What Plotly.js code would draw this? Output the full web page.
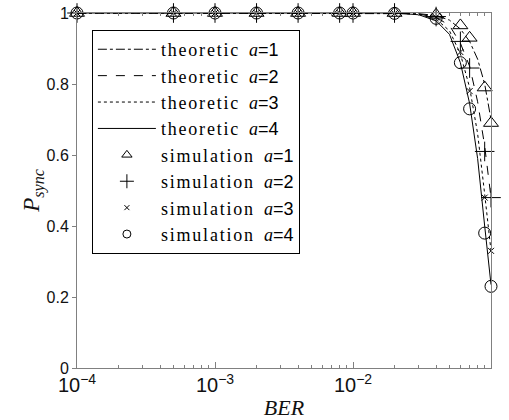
<!DOCTYPE html>
<html>
<head>
<meta charset="utf-8">
<script src="https://cdn.plot.ly/plotly-3.0.1.min.js"></script>
<style>
  html, body { margin: 0; padding: 0; background: #ffffff; }
  #chart { width: 509px; height: 420px; }
</style>
</head>
<body>
<div id="chart"></div>
<script>
// Bit error rates where the simulation was run
const berSim = [1e-4, 5e-4, 1e-3, 2e-3, 4e-3, 8e-3, 1e-2, 2e-2, 4e-2, 6e-2, 7e-2, 9e-2, 1e-1];

// Simulated synchronisation probability for a = 1..4
const simA1 = [1, 1, 1, 1, 1, 1, 1, 1, 0.995, 0.965, 0.93, 0.79, 0.69];
const simA2 = [1, 1, 1, 1, 1, 1, 1, 1, 0.99, 0.92, 0.845, 0.61, 0.48];
const simA3 = [1, 1, 1, 1, 1, 1, 1, 0.999, 0.988, 0.89, 0.78, 0.48, 0.33];
const simA4 = [1, 1, 1, 1, 1, 1, 1, 0.999, 0.985, 0.86, 0.73, 0.38, 0.23];

// Theoretic curves
const berTheo = [1e-4, 1e-3, 1e-2, 2e-2, 3e-2, 4e-2, 5e-2, 6e-2, 7e-2, 8e-2, 9e-2, 1e-1];
const theoA1 = [1, 1, 1, 1, 0.998, 0.993, 0.98, 0.955, 0.92, 0.87, 0.80, 0.70];
const theoA2 = [1, 1, 1, 1, 0.997, 0.988, 0.965, 0.915, 0.85, 0.75, 0.625, 0.48];
const theoA3 = [1, 1, 1, 1, 0.996, 0.983, 0.95, 0.885, 0.79, 0.66, 0.49, 0.33];
const theoA4 = [1, 1, 1, 1, 0.995, 0.978, 0.94, 0.86, 0.745, 0.59, 0.40, 0.235];

const aValues = ['1', '2', '3', '4'];
const lineDashes = ['dashdot', 'dash', 'dot', 'solid'];
const markerSymbols = ['triangle-up-open', 'cross-thin-open', 'x-thin-open', 'circle-open'];
const markerSizes = [13, 14, 6, 12];
const legendMarkerSizes = [9, 10, 5, 8];

const theoSeries = [theoA1, theoA2, theoA3, theoA4];
const simSeries = [simA1, simA2, simA3, simA4];

const sans = 'Liberation Sans, Arial, sans-serif';
const serif = 'Liberation Serif, Times New Roman, serif';

function label(word, a) {
  return '<span style="letter-spacing:1.8px">' + word + '</span>  <i>a</i>' +
         '<span style="font-family:' + sans + '">=' + a + '</span>';
}

const traces = [];
// theoretic curves (also listed in the legend)
theoSeries.forEach((ys, i) => {
  traces.push({
    x: berTheo, y: ys, type: 'scatter', mode: 'lines',
    name: label('theoretic', aValues[i]),
    line: { color: '#000000', width: 1, dash: lineDashes[i] }
  });
});
// legend keys for the simulation markers, drawn smaller than on the plot
simSeries.forEach((ys, i) => {
  traces.push({
    x: [null], y: [null], type: 'scatter', mode: 'markers',
    name: label('simulation', aValues[i]),
    legendgroup: 'sim' + i,
    marker: {
      symbol: markerSymbols[i], size: legendMarkerSizes[i], color: '#000000',
      line: { color: '#000000', width: 1 }
    }
  });
});
// simulation points
simSeries.forEach((ys, i) => {
  traces.push({
    x: berSim, y: ys, type: 'scatter', mode: 'markers',
    name: label('simulation', aValues[i]),
    legendgroup: 'sim' + i, showlegend: false,
    cliponaxis: false,
    marker: {
      symbol: markerSymbols[i], size: markerSizes[i], color: '#000000',
      line: { color: '#000000', width: 1 }
    }
  });
});

const layout = {
  width: 509, height: 420,
  margin: { l: 77, r: 18, t: 13, b: 52 },
  paper_bgcolor: '#ffffff', plot_bgcolor: '#ffffff',
  showlegend: true,
  legend: {
    x: 0.036, y: 0.952, xanchor: 'left', yanchor: 'top',
    bgcolor: '#ffffff', bordercolor: '#000000', borderwidth: 1,
    font: { family: serif, size: 18, color: '#000000' },
    itemwidth: 58, itemsizing: 'trace', tracegroupgap: 0
  },
  xaxis: {
    type: 'log', range: [-4, -0.99999], dtick: 1,
    exponentformat: 'power',
    showgrid: false, zeroline: false,
    showline: true, linecolor: '#808080', linewidth: 1, mirror: 'ticks',
    ticks: 'inside', ticklen: 6, tickcolor: '#808080',
    minor: { ticks: 'inside', ticklen: 3, tickcolor: '#808080', dtick: 'D1', showgrid: false },
    tickfont: { family: sans, size: 16, color: '#111111' },
    title: { text: '<i>BER</i>', font: { family: serif, size: 22, color: '#111111' }, standoff: 4 }
  },
  yaxis: {
    range: [0, 1], dtick: 0.2,
    showgrid: false, zeroline: false,
    showline: true, linecolor: '#808080', linewidth: 1, mirror: true,
    ticks: 'outside', ticklen: 4, tickcolor: '#808080',
    tickfont: { family: sans, size: 16, color: '#111111' },
    title: { text: '<i>P</i><sub><i>sync</i></sub>', font: { family: serif, size: 23, color: '#111111' }, standoff: 0 }
  }
};

Plotly.newPlot('chart', traces, layout, { displayModeBar: false, staticPlot: true });
</script>
</body>
</html>
